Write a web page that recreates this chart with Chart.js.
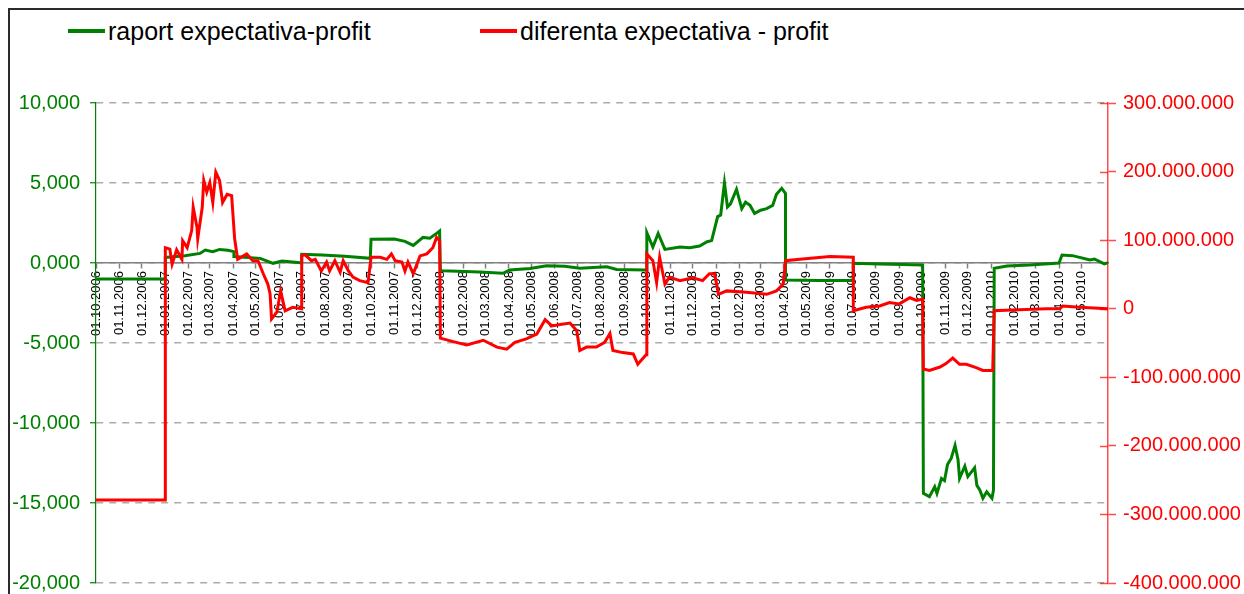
<!DOCTYPE html>
<html>
<head>
<meta charset="utf-8">
<script src="https://cdn.jsdelivr.net/npm/chart.js@4.4.1/dist/chart.umd.min.js"></script>
<style>
  html, body { margin: 0; padding: 0; background: #fff; }
  #wrap { position: relative; width: 1244px; height: 594px; overflow: hidden; }
  #frame { position: absolute; left: 8px; top: 8px; width: 1300px; height: 700px;
           border-left: 2px solid #2b2b2b; border-top: 2px solid #2b2b2b; }
  .item { position: absolute; top: 16px; height: 30px; display: flex; align-items: center;
          white-space: nowrap; font-family: "Liberation Sans", Arial, sans-serif; font-size: 25px; color: #000; }
  .swatch { display: inline-block; width: 37px; height: 4px; margin-right: 3px; }
  #box { position: absolute; left: 0; top: 0; width: 1244px; height: 594px; }
</style>
</head>
<body>
<div id="wrap">
  <div id="frame"></div>
  <div id="legend"></div>
  <div id="box"><canvas id="chart"></canvas></div>
</div>
<script>
// series names and colours
const seriesNames = ["raport expectativa-profit", "diferenta expectativa - profit"];
const seriesColors = ["#008000", "#ff0000"];

// x tick labels (first day of each month)
const tickLabels = [
  "01.10.2006", "01.11.2006", "01.12.2006", "01.01.2007", "01.02.2007", "01.03.2007",
  "01.04.2007", "01.05.2007", "01.06.2007", "01.07.2007", "01.08.2007", "01.09.2007",
  "01.10.2007", "01.11.2007", "01.12.2007", "01.01.2008", "01.02.2008", "01.03.2008",
  "01.04.2008", "01.05.2008", "01.06.2008", "01.07.2008", "01.08.2008", "01.09.2008",
  "01.10.2008", "01.11.2008", "01.12.2008", "01.01.2009", "01.02.2009", "01.03.2009",
  "01.04.2009", "01.05.2009", "01.06.2009", "01.07.2009", "01.08.2009", "01.09.2009",
  "01.10.2009", "01.11.2009", "01.12.2009", "01.01.2010", "01.02.2010", "01.03.2010",
  "01.04.2010", "01.05.2010"
];
const lastDay = 1343; // days after 01.10.2006 of the last observation

// green series (left axis): days after 01.10.2006, ratio values
const greenDays = [0, 92, 92, 118, 138, 145, 155, 164, 175, 183,
  183, 218, 235, 247, 271, 273, 273, 300, 330, 364,
  365, 396, 410, 421, 434, 443, 452, 456, 457, 460,
  509, 540, 549, 576, 598, 622, 642, 678, 691, 730,
  731, 739, 746, 755, 775, 788, 801, 811, 817, 825,
  829, 834, 838, 842, 850, 857, 862, 868, 874, 882,
  890, 898, 903, 910, 915, 915, 960, 1005, 1005, 1040,
  1070, 1097, 1098, 1106, 1113, 1116, 1122, 1126, 1130, 1135,
  1140, 1144, 1146, 1153, 1157, 1166, 1169, 1173, 1177, 1182,
  1189, 1191, 1192, 1209, 1239, 1278, 1282, 1296, 1319, 1325,
  1338, 1343];
const greenValues = [-1000, -1000, 350, 460, 600, 810, 710, 850, 800, 710,
  400, 290, -20, 125, 20, 20, 540, 500, 420, 290,
  1480, 1500, 1350, 1100, 1600, 1550, 1850, 2000, -460, -480,
  -560, -640, -440, -350, -170, -200, -330, -230, -400, -440,
  1900, 1000, 1850, 850, 1000, 950, 1060, 1330, 1400, 2900,
  3000, 5000, 3500, 3700, 4600, 3400, 3800, 3600, 3100, 3300,
  3400, 3600, 4300, 4670, 4350, -1060, -1100, -1100, -20, -60,
  -100, -125, -14400, -14600, -13980, -14400, -13460, -13600, -12600, -12200,
  -11400, -12300, -13460, -12700, -13350, -12800, -13900, -14200, -14700, -14300,
  -14700, -14200, -330, -190, -120, 0, 500, 460, 190, 250,
  -60, 20];

// red series (right axis): days after 01.10.2006, values in millions
const redDays = [0, 92, 92, 98, 101, 107, 114, 115, 121, 127,
  129, 134, 135, 141, 143, 147, 151, 155, 159, 164,
  168, 174, 180, 184, 188, 200, 208, 215, 222, 228,
  231, 233, 240, 245, 251, 261, 273, 273, 277, 286,
  291, 299, 306, 310, 317, 324, 328, 335, 341, 350,
  361, 365, 377, 386, 392, 397, 406, 410, 414, 421,
  430, 439, 447, 452, 456, 457, 474, 492, 514, 532,
  545, 556, 571, 585, 596, 605, 616, 629, 638, 642,
  651, 664, 675, 682, 686, 699, 713, 719, 730, 731,
  739, 744, 748, 755, 761, 775, 792, 805, 814, 821,
  826, 837, 863, 890, 903, 912, 915, 934, 974, 1005,
  1005, 1022, 1040, 1053, 1066, 1080, 1089, 1097, 1098, 1106,
  1120, 1128, 1137, 1146, 1155, 1168, 1177, 1190, 1192, 1216,
  1261, 1279, 1283, 1305, 1343];
const redMillions = [-279, -279, 89, 87, 65, 86, 72, 99, 89, 114,
  148, 119, 102, 148, 187, 170, 184, 155, 199, 187,
  155, 167, 165, 102, 72, 80, 70, 70, 51, 36,
  22, -15, -5, 26, -3, 2, 0, 77, 79, 70,
  72, 55, 68, 55, 70, 53, 70, 55, 46, 41,
  38, 75, 75, 72, 80, 70, 68, 55, 68, 51,
  77, 80, 89, 104, 99, -43, -48, -53, -46, -56,
  -59, -49, -44, -37, -16, -25, -23, -21, -32, -61,
  -56, -56, -49, -36, -61, -64, -66, -81, -67, 80,
  70, 38, 75, 36, 46, 41, 45, 41, 51, 51,
  21, 26, 24, 21, 26, 36, 70, 72, 76, 75,
  -3, 2, 4, 9, 7, 16, 12, 14, -88, -90,
  -85, -80, -72, -81, -81, -86, -90, -90, -3, -2,
  0, 0, 4, 2, 0];

const FONT = "'Liberation Sans', Arial, sans-serif";

function dayOf(label) {
  const [d, m, y] = label.split(".").map(Number);
  return Math.round((Date.UTC(y, m - 1, d) - Date.UTC(2006, 9, 1)) / 86400000);
}
const tickDays = tickLabels.map(dayOf);

function fmtLeft(v) {
  const t = Math.trunc(v / 1000);
  return t + "," + String(Math.abs(v) % 1000).padStart(3, "0");
}
function fmtRight(v) {
  if (v === 0) return "0";
  return (v < 0 ? "-" : "") + String(Math.abs(v)).replace(/\B(?=(\d{3})+(?!\d))/g, ".");
}

// fixed axis widths so the plot area sits where the original has it
function fixWidth(w) {
  return s => {
    s.width = w;
    s.paddingTop = 0;
    s.paddingBottom = 0;
  };
}

// html legend
const legend = document.getElementById("legend");
const legendX = [68, 480];
seriesNames.forEach((name, i) => {
  const item = document.createElement("div");
  item.className = "item";
  item.style.left = legendX[i] + "px";
  item.innerHTML = `<span class="swatch" style="background:${seriesColors[i]}"></span>${name}`;
  legend.appendChild(item);
});

// inner half of the right axis tick marks
const crossTicks = {
  id: "crossTicks",
  afterDraw(chart) {
    const s = chart.scales.y1;
    const ctx = chart.ctx;
    ctx.save();
    ctx.strokeStyle = "rgba(255,0,0,0.7)";
    ctx.lineWidth = 1.5;
    s.ticks.forEach(t => {
      const y = Math.round(s.getPixelForValue(t.value)) + 0.5;
      ctx.beginPath();
      ctx.moveTo(s.left - 8, y);
      ctx.lineTo(s.left, y);
      ctx.stroke();
    });
    ctx.restore();
  }
};

new Chart(document.getElementById("chart"), {
  type: "line",
  data: {
    datasets: [
      {
        label: seriesNames[0],
        data: greenDays.map((d, i) => ({ x: d, y: greenValues[i] })),
        borderColor: seriesColors[0],
        borderWidth: 3,
        pointRadius: 0,
        tension: 0,
        yAxisID: "y",
        order: 1
      },
      {
        label: seriesNames[1],
        data: redDays.map((d, i) => ({ x: d, y: redMillions[i] * 1e6 })),
        borderColor: seriesColors[1],
        borderWidth: 3,
        pointRadius: 0,
        tension: 0,
        yAxisID: "y1",
        order: 0
      }
    ]
  },
  options: {
    responsive: true,
    maintainAspectRatio: false,
    animation: false,
    layout: { padding: { top: 103, bottom: 11, left: 0, right: 0 } },
    plugins: { legend: { display: false }, tooltip: { enabled: false } },
    scales: {
      x: {
        type: "linear",
        position: { y: 0 },
        min: 0,
        max: lastDay,
        afterBuildTicks: s => { s.ticks = tickDays.map(v => ({ value: v })); },
        ticks: {
          autoSkip: false,
          minRotation: 90,
          maxRotation: 90,
          padding: 3,
          color: "#000",
          font: { family: FONT, size: 13 },
          callback: (v, i) => tickLabels[i]
        },
        grid: { drawOnChartArea: false, tickLength: 5, tickColor: "#808080", tickWidth: 1.5 },
        border: { color: "#808080", width: 1.5 }
      },
      y: {
        position: "left",
        min: -20000,
        max: 10000,
        afterFit: fixWidth(96),
        ticks: {
          stepSize: 5000,
          padding: 10,
          color: "#008000",
          font: { family: FONT, size: 20, lineHeight: 1 },
          callback: fmtLeft
        },
        grid: { color: "#ababab", lineWidth: 1.5, tickColor: "#008000", tickLength: 6, tickWidth: 1.2, tickBorderDash: [] },
        border: { color: "#008000", width: 1.2, dash: [7, 6] }
      },
      y1: {
        position: "right",
        min: -400e6,
        max: 300e6,
        afterFit: fixWidth(136),
        ticks: {
          stepSize: 100e6,
          padding: 7,
          color: "#ff0000",
          font: { family: FONT, size: 20, lineHeight: 1 },
          callback: fmtRight
        },
        grid: { drawOnChartArea: false, tickColor: "rgba(255,0,0,0.7)", tickLength: 8, tickWidth: 1.5 },
        border: { color: "rgba(255,0,0,0.7)", width: 1.5 }
      }
    }
  },
  plugins: [crossTicks]
});
</script>
</body>
</html>
